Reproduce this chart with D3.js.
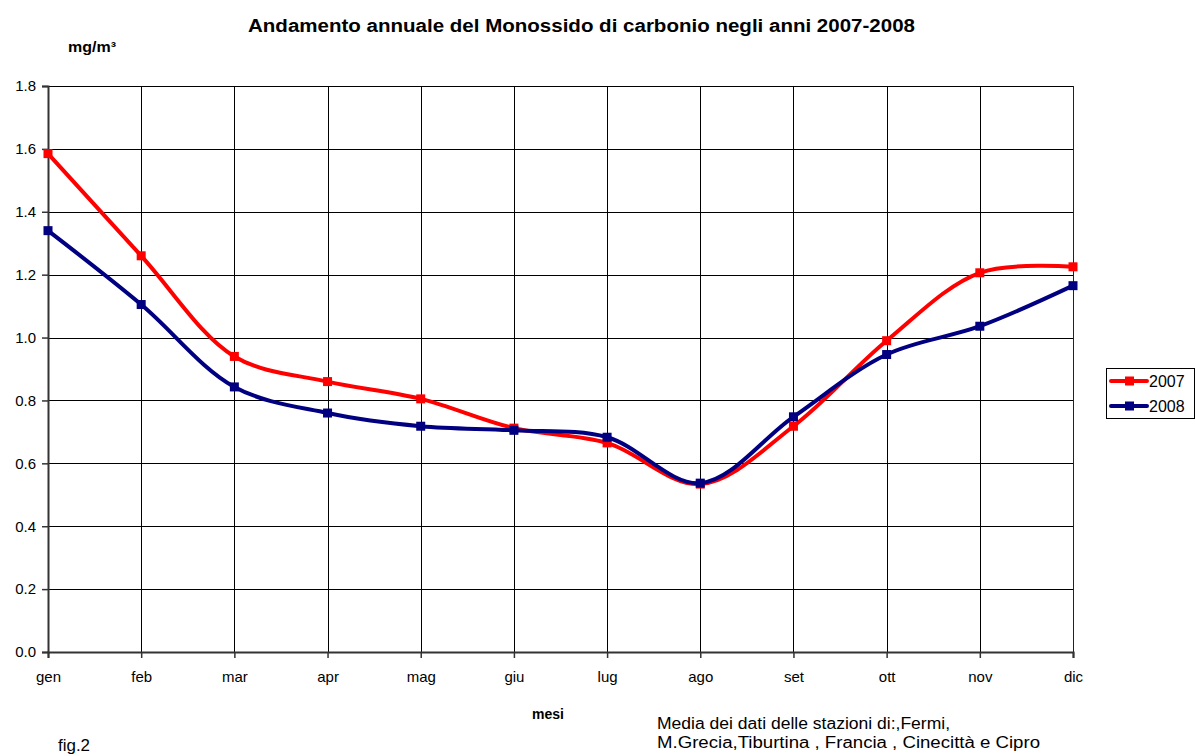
<!DOCTYPE html>
<html>
<head>
<meta charset="utf-8">
<script src="https://cdn.jsdelivr.net/npm/d3@7"></script>
<style>
    body { margin: 0; background: #fff; }
    svg { display: block; font-family: "Liberation Sans", Arial, sans-serif; }
</style>
</head>
<body>
<div id="chart"></div>
<script>
// mesi e medie mensili CO (mg/m³)
const months = ["gen", "feb", "mar", "apr", "mag", "giu", "lug", "ago", "set", "ott", "nov", "dic"];
const values2007 = [1.585, 1.26, 0.94, 0.86, 0.805, 0.712, 0.665, 0.534, 0.718, 0.99, 1.206, 1.225];
const values2008 = [1.34, 1.105, 0.843, 0.76, 0.718, 0.705, 0.683, 0.537, 0.748, 0.946, 1.036, 1.165];
const yTicks = [0, 0.2, 0.4, 0.6, 0.8, 1.0, 1.2, 1.4, 1.6, 1.8];

const series = [
    { name: "2007", color: "#ff0000", values: values2007 },
    { name: "2008", color: "#000080", values: values2008 }
];

const W = 1195, H = 756;
const plot = { left: 48, right: 1073, top: 86, bottom: 652 };

let svg = d3.select("#chart").
append("svg").
attr("width", W).
attr("height", H);

let xScale = d3.scalePoint().
domain(months).
range([plot.left, plot.right]);

let yScale = d3.scaleLinear().
domain([0, 1.8]).
range([plot.bottom, plot.top]);

// griglia
svg.append("g").
selectAll("line").
data(yTicks.slice(1)).
enter().
append("line").
attr("x1", plot.left).
attr("x2", plot.right).
attr("y1", d => Math.round(yScale(d)) + 0.5).
attr("y2", d => Math.round(yScale(d)) + 0.5).
attr("stroke", "#000").
attr("stroke-width", 1);

svg.append("g").
selectAll("line").
data(months.slice(1)).
enter().
append("line").
attr("x1", d => Math.round(xScale(d)) + 0.5).
attr("x2", d => Math.round(xScale(d)) + 0.5).
attr("y1", plot.top).
attr("y2", plot.bottom).
attr("stroke", d => d === "dic" ? "#222" : "#000").
attr("stroke-width", 1);

// assi
let yAxis = svg.append("g").
attr("transform", "translate(" + plot.left + ",0)").
call(d3.axisLeft(yScale).
tickValues(yTicks).
tickFormat(d3.format(".1f")).
tickSize(6).
tickPadding(6));

let xAxis = svg.append("g").
attr("transform", "translate(0," + plot.bottom + ")").
call(d3.axisBottom(xScale).
tickSize(6).
tickPadding(13));

[yAxis, xAxis].forEach(ax => {
    ax.select(".domain").attr("stroke", "#333").attr("stroke-width", 2);
    ax.selectAll(".tick line").attr("stroke", "#333").attr("stroke-width", 1.5);
    ax.selectAll(".tick text").
    attr("font-size", 15).
    attr("fill", "#000").
    attr("font-family", "Liberation Sans, Arial, sans-serif");
});

// linee
let line = d3.line().
x((d, i) => xScale(months[i])).
y(d => yScale(d)).
curve(d3.curveCatmullRom.alpha(0.5));

series.forEach(s => {
    svg.append("path").
    datum(s.values).
    attr("d", line).
    attr("fill", "none").
    attr("stroke", s.color).
    attr("stroke-width", 4).
    attr("stroke-linejoin", "round");

    svg.append("g").
    selectAll("rect").
    data(s.values).
    enter().
    append("rect").
    attr("x", (d, i) => xScale(months[i]) - 4.5).
    attr("y", d => yScale(d) - 4.5).
    attr("width", 9).
    attr("height", 9).
    attr("fill", s.color);
});

// testi
svg.append("text").
attr("x", 248).
attr("y", 32).
attr("font-size", 18).
attr("font-weight", "bold").
attr("textLength", 667).
attr("lengthAdjust", "spacingAndGlyphs").
text("Andamento annuale del Monossido di carbonio negli anni 2007-2008");

svg.append("text").
attr("x", 68).
attr("y", 52).
attr("font-size", 15).
attr("font-weight", "bold").
attr("textLength", 48).
attr("lengthAdjust", "spacingAndGlyphs").
text("mg/m³");

svg.append("text").
attr("x", 532).
attr("y", 719).
attr("font-size", 14).
attr("font-weight", "bold").
text("mesi");

svg.append("text").
attr("x", 657).
attr("y", 729).
attr("font-size", 16).
attr("textLength", 293).
attr("lengthAdjust", "spacingAndGlyphs").
text("Media dei dati delle stazioni di:,Fermi,");

svg.append("text").
attr("x", 657).
attr("y", 748).
attr("font-size", 16).
attr("textLength", 383).
attr("lengthAdjust", "spacingAndGlyphs").
text("M.Grecia,Tiburtina , Francia , Cinecittà e Cipro");

svg.append("text").
attr("x", 58).
attr("y", 751).
attr("font-size", 16).
attr("textLength", 32).
attr("lengthAdjust", "spacingAndGlyphs").
text("fig.2");

// legenda
let legend = svg.append("g").
attr("transform", "translate(1106,368)");

legend.append("rect").
attr("x", 0.5).
attr("y", 0.5).
attr("width", 88).
attr("height", 50).
attr("fill", "#fff").
attr("stroke", "#000");

let items = legend.selectAll(".item").
data(series).
enter().
append("g").
attr("transform", (d, i) => "translate(0," + (13 + i * 25) + ")");

items.append("line").
attr("x1", 5).
attr("x2", 41).
attr("stroke", d => d.color).
attr("stroke-width", 4).
attr("stroke-linecap", "round");

items.append("rect").
attr("x", 19).
attr("y", -4.5).
attr("width", 9).
attr("height", 9).
attr("fill", d => d.color);

items.append("text").
attr("x", 43).
attr("y", 6).
attr("font-size", 16).
text(d => d.name);
</script>
</body>
</html>
